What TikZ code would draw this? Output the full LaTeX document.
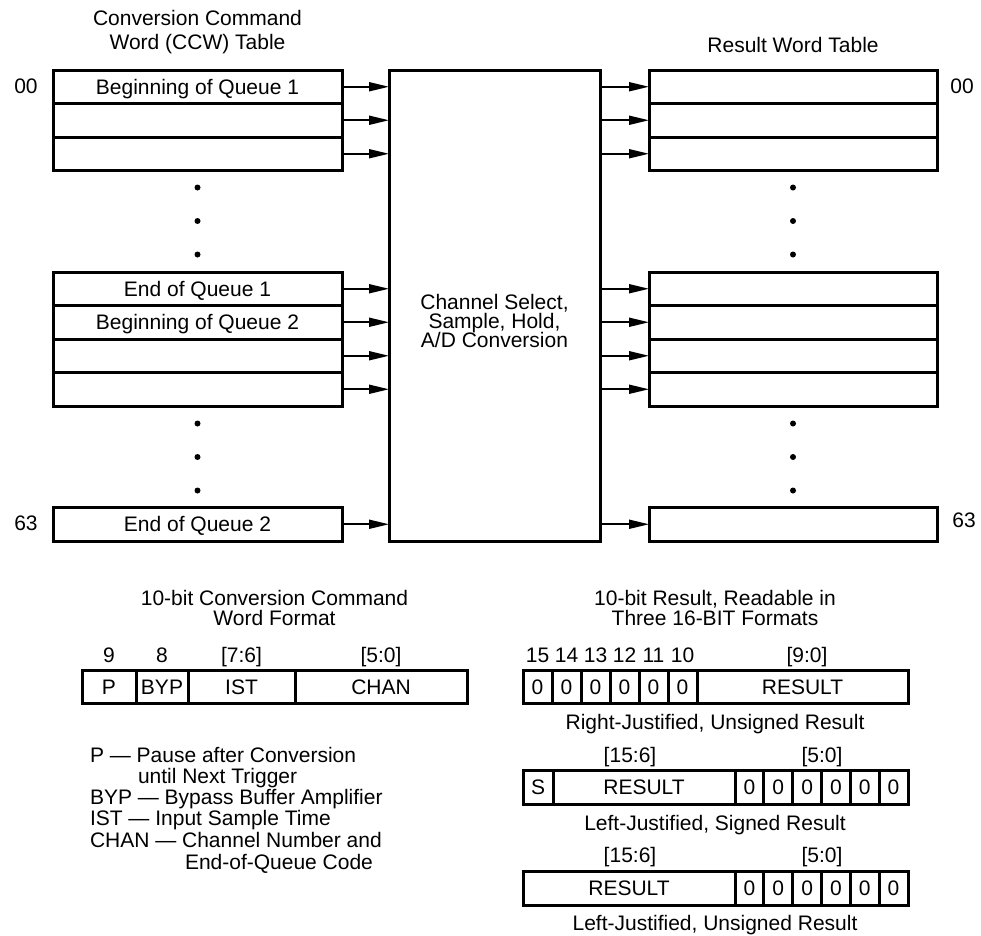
\documentclass[tikz,border=0pt]{standalone}
\usepackage{fontspec}
\setmainfont{Liberation Sans}
\usetikzlibrary{arrows.meta}
\begin{document}
\begin{tikzpicture}[x=1pt,y=-1pt,
  every node/.style={font=\fontsize{21}{21}\selectfont, inner sep=0pt, outer sep=0pt, text height=15pt, text depth=0pt},
  row/.style={draw, line width=3pt, minimum width=289pt, minimum height=33.5pt},
  rrow/.style={draw, line width=3pt, minimum width=288pt, minimum height=33.5pt},
  cell/.style={draw, line width=3pt, minimum height=33pt},
  arr/.style={line width=1.8pt, -{Triangle[length=20pt,width=9pt]}},
]
\useasboundingbox (0,0) rectangle (981,935);

% titles
\node (t1a) at (197.5,18) {Conversion Command};
\node (t1b) at (197.5,42) {Word (CCW) Table};
\node (t2) at (793,45) {Result Word Table};

% center box
\node[draw, line width=3pt, minimum width=211pt, minimum height=471pt] (C) at (494.5,305.5) {};
\node (c1) at (494.5,302) {Channel Select,};
\node (c2) at (494.5,321) {Sample, Hold,};
\node (c3) at (494.5,340) {A/D Conversion};

% left table
\node[row] (L1) at (197.5,86.75) {Beginning of Queue 1};
\node[row] (L2) at (197.5,120.25) {};
\node[row] (L3) at (197.5,153.75) {};
\node[row] (L4) at (197.5,288.75) {End of Queue 1};
\node[row] (L5) at (197.5,322.25) {Beginning of Queue 2};
\node[row] (L6) at (197.5,355.75) {};
\node[row] (L7) at (197.5,389.25) {};
\node[row] (L8) at (197.5,524.25) {End of Queue 2};

% right table
\node[rrow] (R1) at (793,86.75) {};
\node[rrow] (R2) at (793,120.25) {};
\node[rrow] (R3) at (793,153.75) {};
\node[rrow] (R4) at (793,288.75) {};
\node[rrow] (R5) at (793,322.25) {};
\node[rrow] (R6) at (793,355.75) {};
\node[rrow] (R7) at (793,389.25) {};
\node[rrow] (R8) at (793,524.25) {};

% address labels
\node (a00l) at (26,86) {00};
\node (a63l) at (26,523) {63};
\node (a00r) at (962,86) {00};
\node (a63r) at (964,520) {63};

% arrows
\foreach \i in {1,...,8}{
  \draw[arr] (L\i.east) -- (L\i.east -| C.west);
  \draw[arr] (R\i.west -| C.east) -- (R\i.west);
}

% dots
\foreach \yy in {187.5,221,254.5,423.5,457,490.5}{
  \fill (197.5,\yy) circle (3pt);
  \fill (793,\yy) circle (3pt);
}

% CCW format
\node (f1a) at (274.5,598) {10-bit Conversion Command};
\node (f1b) at (274.5,618) {Word Format};
\node (b9) at (109,655) {9};
\node (b8) at (162,655) {8};
\node (b76) at (241.5,655) {[7:6]};
\node (b50) at (381,655) {[5:0]};
\node[cell, minimum width=54pt] (P) at (109,686.5) {P};
\node[cell, minimum width=52pt] (BYP) at (162,686.5) {BYP};
\node[cell, minimum width=107pt] (IST) at (241.5,686.5) {IST};
\node[cell, minimum width=172pt] (CHAN) at (381,686.5) {CHAN};

% legend
\node[anchor=west] (g1) at (90,755) {P — Pause after Conversion};
\node[anchor=west] (g2) at (138,776) {until Next Trigger};
\node[anchor=west] (g3) at (90,797) {BYP — Bypass Buffer Amplifier};
\node[anchor=west] (g4) at (90,818) {IST — Input Sample Time};
\node[anchor=west] (g5) at (90,840) {CHAN — Channel Number and};
\node[anchor=west] (g6) at (185,862) {End-of-Queue Code};

% result formats
\node (r1a) at (715,598) {10-bit Result, Readable in};
\node (r1b) at (715,618) {Three 16-BIT Formats};
\foreach \n [count=\k from 0] in {15,14,13,12,11,10}{
  \node (l\n) at (537.5+29*\k,655) {\n};
  \node[cell, minimum width=29pt] (za\k) at (537.5+29*\k,686.5) {0};
}
\node (l90) at (807,655) {[9:0]};
\node[cell, minimum width=211pt] (RA) at (802.5,686.5) {RESULT};
\node (capA) at (715,722) {Right-Justified, Unsigned Result};

\node (lb1) at (630,755) {[15:6]};
\node (lb2) at (822,755) {[5:0]};
\node[cell, minimum width=30pt, minimum height=34pt] (S) at (538,787) {S};
\node[cell, minimum width=182pt, minimum height=34pt] (RB) at (644,787) {RESULT};
\foreach \k in {0,...,5}{
  \node[cell, minimum width=28.83pt, minimum height=34pt] (zb\k) at (749.42+28.83*\k,787) {0};
}
\node (capB) at (715,823) {Left-Justified, Signed Result};

\node (lc1) at (630,855) {[15:6]};
\node (lc2) at (822,855) {[5:0]};
\node[cell, minimum width=212pt, minimum height=34pt] (RC) at (629,888) {RESULT};
\foreach \k in {0,...,5}{
  \node[cell, minimum width=28.83pt, minimum height=34pt] (zc\k) at (749.42+28.83*\k,888) {0};
}
\node (capC) at (715,923) {Left-Justified, Unsigned Result};
\end{tikzpicture}
\end{document}
